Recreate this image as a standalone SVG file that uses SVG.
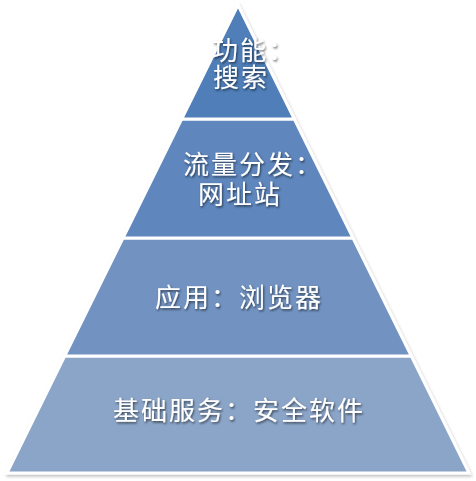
<svg xmlns="http://www.w3.org/2000/svg" width="476" height="481" viewBox="0 0 476 481">
  <defs>
    <filter id="shapeShadow" x="-10%" y="-10%" width="120%" height="120%">
      <feDropShadow dx="1" dy="2" stdDeviation="1.5" flood-color="#000" flood-opacity="0.25"/>
    </filter>
    <filter id="textShadow" x="-10%" y="-30%" width="120%" height="160%">
      <feDropShadow dx="1" dy="1.5" stdDeviation="0.8" flood-color="#000" flood-opacity="0.6"/>
    </filter>
  </defs>
  <style>
    .layer { stroke: #ffffff; stroke-width: 3; stroke-linejoin: miter; }
    .label { font-family: "Noto Sans CJK SC", "Noto Sans", sans-serif; font-size: 26px; fill: #ffffff; letter-spacing: 2px; filter: url(#textShadow); }
  </style>
  <rect width="476" height="481" fill="#ffffff"/>
  <g id="pyramid" filter="url(#shapeShadow)">
    <g id="layer4">
      <polygon class="layer" fill="#8BA5C8" points="64.7,356 411.3,356 469,473 7,473"/>
    </g>
    <g id="layer3">
      <polygon class="layer" fill="#7293C2" points="123,238 353,238 411.3,356 64.7,356"/>
    </g>
    <g id="layer2">
      <polygon class="layer" fill="#5F87BE" points="181.7,119 294.3,119 353,238 123,238"/>
    </g>
    <g id="layer1">
      <polygon class="layer" fill="#4F7EB8" points="238,5 294.3,119 181.7,119"/>
    </g>
  </g>
  <g id="labels">
    <g id="label1">
      <text class="label" x="212" y="60">功能：</text>
      <text class="label" x="213" y="87">搜索</text>
    </g>
    <g id="label2">
      <text class="label" x="183" y="174">流量分发：</text>
      <text class="label" x="198" y="204">网址站</text>
    </g>
    <g id="label3">
      <text class="label" x="155" y="307">应用：浏览器</text>
    </g>
    <g id="label4">
      <text class="label" x="113" y="420">基础服务：安全软件</text>
    </g>
  </g>
  <g id="connectors"/>
</svg>
